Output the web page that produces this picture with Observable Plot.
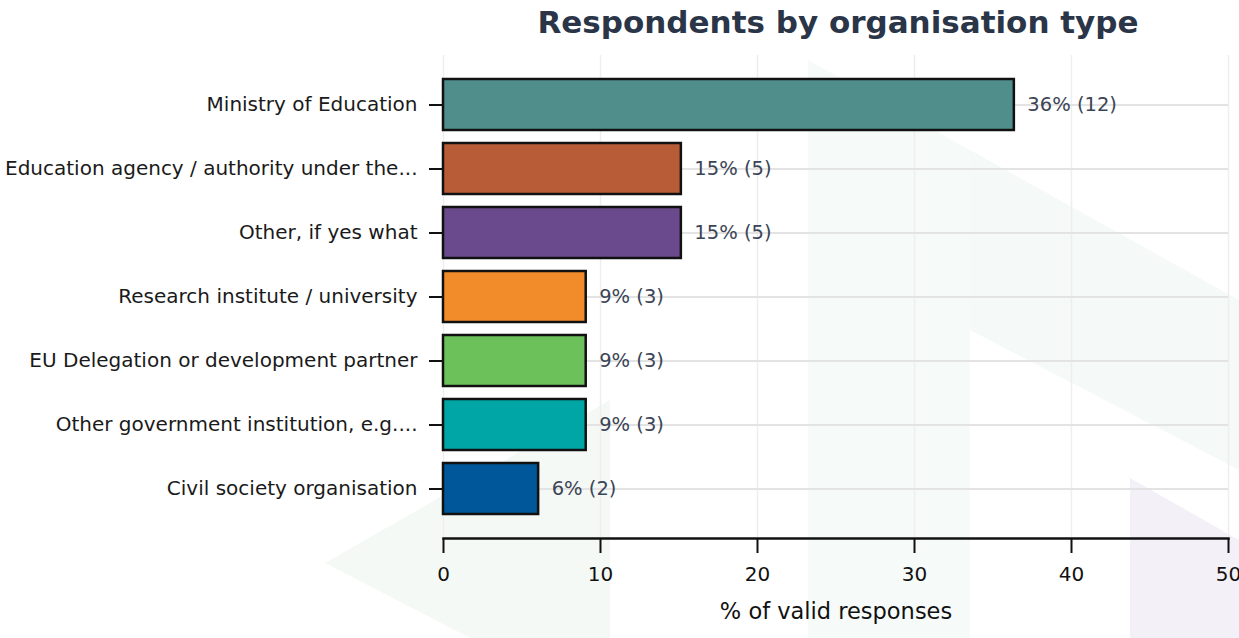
<!DOCTYPE html>
<html>
<head>
<meta charset="utf-8">
<script src="https://cdn.jsdelivr.net/npm/d3@7"></script>
<script src="https://cdn.jsdelivr.net/npm/@observablehq/plot@0.6"></script>
<style>
  body { margin: 0; background: #ffffff; width: 1239px; height: 638px; overflow: hidden; position: relative; }
  #bg { position: absolute; left: 0; top: 0; z-index: 0; }
  #title, #chart { position: relative; z-index: 1; }
  #title { width: 802px; padding-left: 437px; text-align: center; font-family: "DejaVu Sans", sans-serif; font-weight: bold; font-size: 31px; color: #2a3548; height: 50px; line-height: 44px; white-space: nowrap; }
</style>
</head>
<body>
<svg id="bg" width="1239" height="638" aria-hidden="true">
  <polygon points="325,563 610,400 610,638 470,638" fill="#f4f9f6"/>
  <polygon points="808,60 970,150 970,638 808,638" fill="#f6faf8"/>
  <polygon points="970,150 1239,300 1239,470 970,330" fill="#f5f9f7"/>
  <polygon points="1130,478 1239,540 1239,638 1130,638" fill="#f3f0f8"/>
</svg>
<div id="title">Respondents by organisation type</div>
<div id="chart"></div>
<script>
const categories = [
  "Ministry of Education",
  "Education agency / authority under the...",
  "Other, if yes what",
  "Research institute / university",
  "EU Delegation or development partner",
  "Other government institution, e.g....",
  "Civil society organisation"
];
const counts = [12, 5, 5, 3, 3, 3, 2];
const percents = [36.36, 15.15, 15.15, 9.09, 9.09, 9.09, 6.06];
const colors = ["#4f8e8b", "#b85c38", "#6a4a8c", "#f28c2a", "#6cc15a", "#00a6a6", "#00579a"];
const xTicks = [0, 10, 20, 30, 40, 50];
const xLabel = "% of valid responses";

const data = categories.map((c, i) => ({
  category: c,
  pct: percents[i],
  n: counts[i],
  color: colors[i],
  label: `${Math.round(percents[i])}% (${counts[i]})`
}));

const chart = Plot.plot({
  width: 1239,
  height: 588,
  marginLeft: 443,
  marginRight: 11,
  marginTop: 5,
  marginBottom: 100,
  style: { fontFamily: "DejaVu Sans, sans-serif", fontSize: "20px", color: "#1a1a1a", background: "transparent", overflow: "visible" },
  x: { domain: [0, 50] },
  y: { domain: categories, paddingInner: 0.2, paddingOuter: 0.34 },
  color: { type: "identity" },
  marks: [
    Plot.gridX(xTicks, { stroke: "#eeeeee", strokeOpacity: 1, strokeWidth: 1.5 }),
    Plot.gridY({ stroke: "#e3e3e3", strokeOpacity: 1, strokeWidth: 2 }),
    Plot.barX(data, { x: "pct", y: "category", fill: "color", stroke: "#111111", strokeWidth: 2.5 }),
    Plot.text(data, { x: "pct", y: "category", text: "label", dx: 13, textAnchor: "start", fill: "#3b4556", fontSize: 19.5 }),
    Plot.frame({ anchor: "bottom", stroke: "#111111", strokeWidth: 2.5 }),
    Plot.axisX({ ticks: xTicks, tickSize: 15, tickPadding: 13, strokeWidth: 2, stroke: "#111111", fontSize: 20, label: null, fill: "#111111" }),
    Plot.text([xLabel], { frameAnchor: "bottom", dy: 80, fontSize: 22.5, fill: "#111111" }),
    Plot.axisY({ tickSize: 14, tickPadding: 12, strokeWidth: 2, stroke: "#111111", label: null, fill: "#1a1a1a", fontSize: 20 })
  ]
});
document.getElementById("chart").appendChild(chart);
</script>
</body>
</html>
